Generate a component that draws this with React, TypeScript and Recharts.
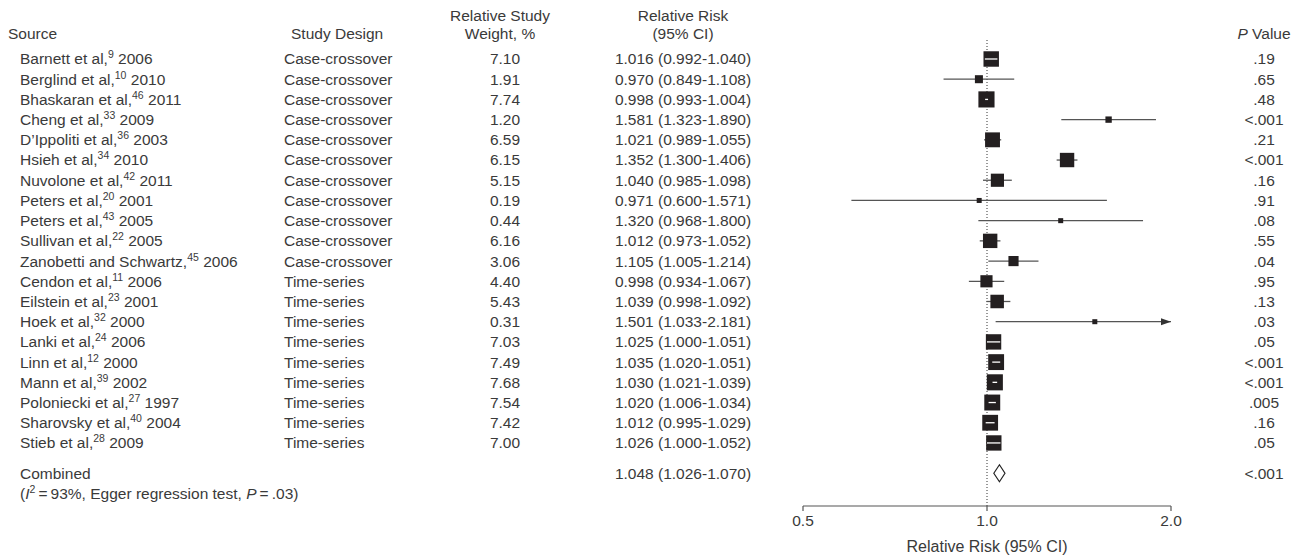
import React from 'react';
import { ScatterChart, Scatter, XAxis, YAxis, ReferenceLine } from 'recharts';

const authors = [
  'Barnett et al,', 'Berglind et al,', 'Bhaskaran et al,', 'Cheng et al,', 'D\u2019Ippoliti et al,',
  'Hsieh et al,', 'Nuvolone et al,', 'Peters et al,', 'Peters et al,', 'Sullivan et al,',
  'Zanobetti and Schwartz,', 'Cendon et al,', 'Eilstein et al,', 'Hoek et al,', 'Lanki et al,',
  'Linn et al,', 'Mann et al,', 'Poloniecki et al,', 'Sharovsky et al,', 'Stieb et al,',
];
const refs = ['9', '10', '46', '33', '36', '34', '42', '20', '43', '22', '45', '11', '23', '32', '24', '12', '39', '27', '40', '28'];
const years = ['2006', '2010', '2011', '2009', '2003', '2010', '2011', '2001', '2005', '2005', '2006', '2006', '2001', '2000', '2006', '2000', '2002', '1997', '2004', '2009'];
const designs = [
  'Case-crossover', 'Case-crossover', 'Case-crossover', 'Case-crossover', 'Case-crossover',
  'Case-crossover', 'Case-crossover', 'Case-crossover', 'Case-crossover', 'Case-crossover',
  'Case-crossover', 'Time-series', 'Time-series', 'Time-series', 'Time-series',
  'Time-series', 'Time-series', 'Time-series', 'Time-series', 'Time-series',
];
const weights = [7.10, 1.91, 7.74, 1.20, 6.59, 6.15, 5.15, 0.19, 0.44, 6.16, 3.06, 4.40, 5.43, 0.31, 7.03, 7.49, 7.68, 7.54, 7.42, 7.00];
const relRisk = [1.016, 0.970, 0.998, 1.581, 1.021, 1.352, 1.040, 0.971, 1.320, 1.012, 1.105, 0.998, 1.039, 1.501, 1.025, 1.035, 1.030, 1.020, 1.012, 1.026];
const ciLow = [0.992, 0.849, 0.993, 1.323, 0.989, 1.300, 0.985, 0.600, 0.968, 0.973, 1.005, 0.934, 0.998, 1.033, 1.000, 1.020, 1.021, 1.006, 0.995, 1.000];
const ciHigh = [1.040, 1.108, 1.004, 1.890, 1.055, 1.406, 1.098, 1.571, 1.800, 1.052, 1.214, 1.067, 1.092, 2.181, 1.051, 1.051, 1.039, 1.034, 1.029, 1.052];
const pValues = ['.19', '.65', '.48', '<.001', '.21', '<.001', '.16', '.91', '.08', '.55', '.04', '.95', '.13', '.03', '.05', '<.001', '<.001', '.005', '.16', '.05'];

const combinedRR = 1.048;
const combinedLow = 1.026;
const combinedHigh = 1.070;
const combinedP = '<.001';
const combinedRow = 20.5;

const xTicks = [0.5, 1, 2];
const xMin = 0.5;
const xMax = 2;

const font = '"Liberation Sans", Arial, Helvetica, sans-serif';
const ink = '#3a3a3a';
const fs = 15.5;

const rows = authors.map((_, i) => i);
const rowTicks = [...rows, combinedRow];

// square + CI line for one study; points come from the scatter's own scales
function StudyMark({ points, weight, clipped }: any) {
  if (!points || points.length < 3) return null;
  const [a, m, b] = points;
  const side = Math.max(5, 5.8 * Math.sqrt(weight));
  const inside = b.x - a.x < side - 1;
  return (
    <g>
      {!inside && <line x1={a.x} x2={b.x} y1={m.y} y2={m.y} stroke="#555" strokeWidth={1.3} />}
      {clipped && (
        <polygon
          points={`${b.x},${m.y} ${b.x - 10},${m.y - 3.5} ${b.x - 10},${m.y + 3.5}`}
          fill="#333"
        />
      )}
      <rect x={m.x - side / 2} y={m.y - side / 2} width={side} height={side} fill="#231f20" />
      {inside && <line x1={a.x} x2={b.x} y1={m.y} y2={m.y} stroke="#fff" strokeWidth={1.3} />}
    </g>
  );
}

function Diamond({ points }: any) {
  if (!points || points.length < 3) return null;
  const [a, m, b] = points;
  const h = 8.5;
  return (
    <polygon
      points={`${a.x},${m.y} ${m.x},${m.y - h} ${b.x},${m.y} ${m.x},${m.y + h}`}
      fill="#fff"
      stroke="#222"
      strokeWidth={1.2}
    />
  );
}

function RowTick({ y, payload }: any) {
  const v = payload.value;
  const common = { fill: ink, fontSize: fs, fontFamily: font, dy: '0.35em' };
  if (v === combinedRow) {
    return (
      <g>
        <text x={20} y={y} {...common}>Combined</text>
        <text x={20} y={y + 20} {...common}>
          (<tspan fontStyle="italic">I</tspan>
          <tspan dy={-6} fontSize={10.5}>2</tspan>
          <tspan dy={6}>{'\u2009=\u200993%, Egger regression test, '}</tspan>
          <tspan fontStyle="italic">P</tspan>
          {'\u2009=\u2009.03)'}
        </text>
        <text x={683} y={y} textAnchor="middle" {...common}>
          {`${combinedRR.toFixed(3)} (${combinedLow.toFixed(3)}-${combinedHigh.toFixed(3)})`}
        </text>
        <text x={1264} y={y} textAnchor="middle" {...common}>{combinedP}</text>
      </g>
    );
  }
  const i = v;
  return (
    <g>
      <text x={20} y={y} {...common}>
        {authors[i]}
        <tspan dy={-6} fontSize={10.5}>{refs[i]}</tspan>
        <tspan dy={6}>{'\u00a0' + years[i]}</tspan>
      </text>
      <text x={284} y={y} {...common}>{designs[i]}</text>
      <text x={505} y={y} textAnchor="middle" {...common}>{weights[i].toFixed(2)}</text>
      <text x={683} y={y} textAnchor="middle" {...common}>
        {`${relRisk[i].toFixed(3)} (${ciLow[i].toFixed(3)}-${ciHigh[i].toFixed(3)})`}
      </text>
      <text x={1264} y={y} textAnchor="middle" {...common}>{pValues[i]}</text>
    </g>
  );
}

function Header({ x, y, anchor = 'start', children }: any) {
  const shift = anchor === 'middle' ? 'translateX(-50%)' : 'none';
  return (
    <div
      style={{
        position: 'absolute',
        left: x,
        top: y - 9,
        lineHeight: '18px',
        fontSize: fs,
        whiteSpace: 'nowrap',
        transform: shift,
      }}
    >
      {children}
    </div>
  );
}

export default function App() {
  return (
    <div
      style={{
        position: 'absolute',
        left: 0,
        top: 0,
        width: 1301,
        height: 556,
        background: '#fff',
        fontFamily: font,
        color: ink,
      }}
    >
      <Header x={8} y={34}>Source</Header>
      <Header x={291} y={34}>Study Design</Header>
      <Header x={500} y={16} anchor="middle">Relative Study</Header>
      <Header x={500} y={34} anchor="middle">Weight, %</Header>
      <Header x={683} y={16} anchor="middle">Relative Risk</Header>
      <Header x={683} y={34} anchor="middle">(95% CI)</Header>
      <Header x={1264} y={34} anchor="middle">
        <i>P</i> Value
      </Header>

      <ScatterChart width={1301} height={556} margin={{ top: 40, right: 130, bottom: 0, left: 0 }}>
        <XAxis
          type="number"
          dataKey="rr"
          scale="log"
          domain={[xMin, xMax]}
          allowDataOverflow
          ticks={xTicks}
          tickFormatter={(v) => Number(v).toFixed(1)}
          tick={{ fill: ink, fontSize: fs, fontFamily: font }}
          tickSize={5}
          tickMargin={4}
          axisLine={{ stroke: '#555', strokeWidth: 1.2 }}
          tickLine={{ stroke: '#555', strokeWidth: 1.2 }}
          height={50}
          label={{
            value: 'Relative Risk (95% CI)',
            position: 'insideBottom',
            offset: 4,
            fill: ink,
            fontSize: 16,
            fontFamily: font,
          }}
        />
        <YAxis
          type="number"
          dataKey="row"
          domain={[-0.94, 22.12]}
          allowDataOverflow
          reversed
          ticks={rowTicks}
          interval={0}
          width={803}
          axisLine={false}
          tickLine={false}
          tick={(props: any) => <RowTick {...props} />}
        />
        <ReferenceLine x={1} stroke="#333" strokeDasharray="1 2" strokeWidth={1} />
        {rows.map((i) => (
          <Scatter
            key={i}
            data={[
              { rr: ciLow[i], row: i },
              { rr: relRisk[i], row: i },
              { rr: Math.min(ciHigh[i], xMax), row: i },
            ]}
            shape={() => <g />}
            line={(p: any) => (
              <StudyMark points={p.points} weight={weights[i]} clipped={ciHigh[i] > xMax} />
            )}
            isAnimationActive={false}
          />
        ))}
        <Scatter
          data={[
            { rr: combinedLow, row: combinedRow },
            { rr: combinedRR, row: combinedRow },
            { rr: combinedHigh, row: combinedRow },
          ]}
          shape={() => <g />}
          line={(p: any) => <Diamond points={p.points} />}
          isAnimationActive={false}
        />
      </ScatterChart>
    </div>
  );
}
